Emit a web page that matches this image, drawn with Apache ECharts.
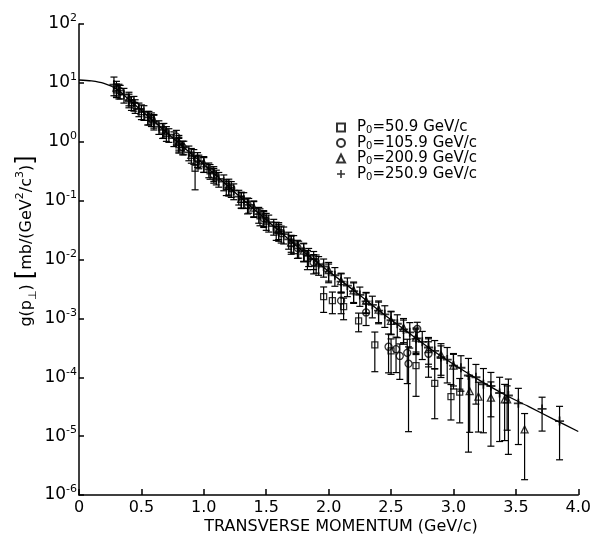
<!DOCTYPE html>
<html><head><meta charset="utf-8">
<script src="https://cdn.jsdelivr.net/npm/echarts@6/dist/echarts.min.js"></script>
<style>html,body{margin:0;padding:0;background:#fff}#c{width:594px;height:538px}</style>
</head><body><div id="c"></div>
<script>
// ---- data ----
const xTickValues = [0, 0.5, 1.0, 1.5, 2.0, 2.5, 3.0, 3.5, 4.0];
const legendMomenta = ['50.9', '105.9', '200.9', '250.9'];

// fitted curve
const fitX = [0,0.1,0.2,0.3,0.4,0.5,0.6,0.7,0.8,0.9,1.0,1.2,1.4,1.6,1.8,2.0,2.2,2.4,2.6,2.8,3.0,3.2,3.4,3.6,3.8,4.0];
const fitY = [11.2,10.8,9.8,7.9,5.2,3.4,2.2,1.45,0.95,0.62,0.41,0.17,0.072,0.031,0.0135,0.0063,0.0030,0.00138,0.00066,0.00032,0.000166,0.000091,0.000052,0.000032,0.0000195,0.000012];

// P0 = 250.9 GeV/c (+)
const plusX = [0.28,0.32,0.36,0.40,0.44,0.48,0.52,0.56,0.60,0.64,
  0.68,0.72,0.76,0.80,0.84,0.88,0.92,0.96,1.00,1.04,
  1.08,1.12,1.16,1.20,1.24,1.28,1.32,1.36,1.40,1.44,
  1.48,1.52,1.56,1.60,1.64,1.68,1.72,1.76,1.80,1.84,
  1.88,1.92,1.96,2.00,
  2.05,2.10,2.15,2.20,2.25,2.30,2.35,2.40,2.45,2.50,
  2.55,2.60,2.65,2.70,2.75,2.80,2.85,2.90,2.95,3.00,
  3.06,3.12,3.18,3.24,3.30,3.37,3.44,3.52,3.71,3.85];
const plusY = [9.3,7.4,6.3,5.1,4.6,3.6,3.2,2.6,2.2,1.8,
  1.6,1.32,1.15,0.93,0.81,0.66,0.575,0.47,0.42,0.34,
  0.295,0.235,0.21,0.166,0.148,0.117,0.105,0.085,0.074,0.059,
  0.052,0.043,0.037,0.030,0.027,0.022,0.019,0.0155,0.0138,0.0115,
  0.0102,0.0083,0.0076,0.0062,
  0.0054,0.0042,0.0036,0.0029,0.0025,0.00195,0.0017,0.00135,0.00117,0.00093,
  0.00081,0.00065,0.00058,0.00045,0.0004,0.00032,0.00028,0.00022,0.0002,0.000158,
  0.000145,0.000107,0.0001,0.000076,0.000071,0.000054,0.000049,0.000036,0.000029,0.000018];
const plusErr = [0.35,0.28,0.28,0.26,0.28,0.26,0.28,0.26,0.28,0.26,
  0.28,0.26,0.28,0.28,0.26,0.28,0.28,0.26,0.28,0.28,
  0.28,0.28,0.3,0.28,0.3,0.28,0.3,0.28,0.3,0.3,
  0.3,0.32,0.3,0.32,0.32,0.32,0.34,0.32,0.34,0.34,
  0.34,0.35,0.34,0.35,
  0.35,0.36,0.35,0.38,0.36,0.38,0.4,0.4,0.4,0.42,
  0.42,0.44,0.46,0.46,0.5,0.48,0.5,0.55,0.6,0.55,
  0.6,0.95,0.65,0.85,0.7,0.85,0.9,0.8,0.58,0.78];

// P0 = 200.9 GeV/c (triangle)
const triX = [0.30,0.40,0.50,0.60,0.70,0.80,0.90,1.00,1.10,1.20,
  1.30,1.40,1.50,1.60,1.70,1.80,1.90,2.00,2.10,2.20,
  2.30,2.40,2.50,2.60,2.70,2.80,2.90,3.00,
  3.13,3.20,3.30,3.41,3.43,3.57];
const triY = [8.3,5.5,3.3,2.3,1.41,1.0,0.60,0.43,0.257,0.178,
  0.107,0.076,0.046,0.032,0.0195,0.0141,0.0089,0.0066,0.0043,0.0030,
  0.0020,0.00141,0.00091,0.00069,0.00047,0.0003,0.00024,0.000158,
  0.000058,0.000047,0.000045,0.000042,0.000042,0.000013];
const triErr = [0.28,0.26,0.28,0.26,0.28,0.28,0.28,0.3,0.28,0.3,
  0.3,0.3,0.32,0.32,0.32,0.34,0.34,0.35,0.36,0.38,
  0.38,0.4,0.42,0.44,0.46,0.5,0.55,0.6,
  0.8,0.75,0.85,0.8,0.7,0.86];

// P0 = 105.9 GeV/c (circle)
const circX = [0.33,0.45,0.58,0.78,0.83,0.95,1.08,1.22,1.35,1.48,1.62,1.75,1.88,2.10,2.30,2.48,2.54,2.57,2.63,2.64,2.71,2.80];
const circY = [7.2,4.1,2.45,1.22,0.81,0.51,0.275,0.162,0.085,0.050,0.028,0.0158,0.0089,0.002,0.00126,0.00033,0.0003,0.00023,0.00026,0.00017,0.00066,0.00025];
const circErr = [0.26,0.26,0.26,0.28,0.26,0.28,0.28,0.3,0.3,0.3,0.32,0.34,0.36,0.4,0.4,0.64,0.6,0.6,0.7,0.93,0.3,0.6];

// P0 = 50.9 GeV/c (square)
const sqX = [0.30,0.42,0.55,0.67,0.80,0.93,1.05,1.18,1.30,1.45,1.58,1.70,1.83,1.96,2.03,2.12,2.24,2.37,2.50,2.70,2.85,2.98,3.05];
const sqY = [7.6,4.6,2.6,1.58,0.89,0.355,0.32,0.174,0.105,0.055,0.032,0.0186,0.0105,0.00234,0.002,0.00158,0.00091,0.000355,0.00028,0.000158,0.000079,0.000047,0.000056];
const sqErr = [0.26,0.26,0.26,0.28,0.28,0.57,0.28,0.3,0.3,0.32,0.34,0.34,0.36,0.46,0.4,0.4,0.35,0.65,0.6,0.7,0.75,0.6,0.7];

// ---- build ----
const FONT = 'DejaVu Sans';
const names = legendMomenta.map(m => 'P0=' + m + ' GeV/c');
function mk(xs, ys, es) { return xs.map((x, i) => [x, ys[i], ys[i] * (1 - es[i]), ys[i] * (1 + es[i])]); }
function errRender(params, api) {
  const x = api.value(0), lo = api.value(2), hi = api.value(3);
  const a = api.coord([x, hi]), b = api.coord([x, lo]);
  const w = 3.5, st = { stroke: '#000', lineWidth: 1.2 };
  return { type: 'group', children: [
    { type: 'line', shape: { x1: a[0], y1: a[1], x2: b[0], y2: b[1] }, style: st },
    { type: 'line', shape: { x1: a[0] - w, y1: a[1], x2: a[0] + w, y2: a[1] }, style: st },
    { type: 'line', shape: { x1: b[0] - w, y1: b[1], x2: b[0] + w, y2: b[1] }, style: st }
  ]};
}
const sets = [
  { name: names[0], data: mk(sqX, sqY, sqErr), symbol: 'rect', size: 6 },
  { name: names[1], data: mk(circX, circY, circErr), symbol: 'circle', size: 7 },
  { name: names[2], data: mk(triX, triY, triErr), symbol: 'triangle', size: 7 },
  { name: names[3], data: mk(plusX, plusY, plusErr), symbol: 'path://M-0.8,-4H0.8V-0.8H4V0.8H0.8V4H-0.8V0.8H-4V-0.8H-0.8Z', size: 9 }
];
const series = [];
sets.forEach((s, k) => {
  series.push({ type: 'custom', name: 'err' + k, data: s.data, encode: { x: 0, y: 1 }, renderItem: errRender, z: 2, silent: true });
});
sets.forEach((s, k) => {
  const filled = k === 3;
  series.push({ type: 'scatter', name: s.name, data: s.data.map(d => [d[0], d[1]]),
    symbol: s.symbol, symbolSize: s.size, z: 3,
    itemStyle: filled ? { color: '#000' } : { color: 'rgba(255,255,255,0)', borderColor: '#000', borderWidth: 1.3 } });
});
series.push({ type: 'line', name: 'fit', data: fitX.map((x, i) => [x, fitY[i]]), showSymbol: false, symbol: 'none',
  smooth: 0.3, lineStyle: { color: '#000', width: 1.3 }, z: 4, silent: true });

const chart = echarts.init(document.getElementById('c'));
chart.setOption({
  animation: false,
  backgroundColor: '#fff',
  grid: { left: 79, right: 14, top: 24, bottom: 43, containLabel: false },
  xAxis: {
    type: 'value', min: 0, max: 4, interval: 0.5,
    axisLine: { show: true, onZero: false, lineStyle: { color: '#000', width: 1.5 } },
    axisTick: { show: true, inside: true, length: 6, lineStyle: { color: '#000', width: 1.5 } },
    axisLabel: { color: '#000', fontFamily: FONT, fontSize: 16, margin: 5,
      formatter: v => (xTickValues.indexOf(v) >= 0 ? (v === 0 ? '0' : v.toFixed(1)) : '') },
    splitLine: { show: false }
  },
  yAxis: {
    type: 'log', logBase: 10, min: 1e-6, max: 100, splitNumber: 8,
    axisLine: { show: true, onZero: false, lineStyle: { color: '#000', width: 1.5 } },
    axisTick: { show: true, inside: true, length: 5, lineStyle: { color: '#000', width: 1.5 } },
    minorTick: { show: false },
    splitLine: { show: false },
    axisLabel: { margin: 2, color: '#000',
      formatter: v => '{b|10}{s|' + Math.round(Math.log10(v)) + '}',
      rich: {
        b: { fontFamily: FONT, fontSize: 17, lineHeight: 22, color: '#000' },
        s: { fontFamily: FONT, fontSize: 11, lineHeight: 11, verticalAlign: 'top', color: '#000' }
      } }
  },
  legend: {
    data: names, orient: 'vertical', left: 331, top: 115, itemWidth: 8, itemHeight: 8, itemGap: 0,
    selectedMode: false,
    formatter: name => '{p|P}{sub|0}{p|=' + legendMomenta[names.indexOf(name)] + ' GeV/c}',
    textStyle: { padding: [0, 0, 0, 7], rich: {
      p: { fontFamily: FONT, fontSize: 15, lineHeight: 16, color: '#000' },
      sub: { fontFamily: FONT, fontSize: 10, lineHeight: 10, verticalAlign: 'bottom', color: '#000' }
    } }
  },
  graphic: [
    { type: 'text', x: 341, y: 527, style: { text: 'TRANSVERSE MOMENTUM (GeV/c)', fontFamily: FONT, fontSize: 16,
      fill: '#000', align: 'center', verticalAlign: 'middle' } },
    { type: 'text', x: 27, y: 241, rotation: Math.PI / 2,
      style: { text: '{t|g(p}{sub|⊥}{t|) }{br|[}{t|mb/(GeV}{sup|2}{t|/c}{sup|3}{t|)}{br|]}',
        align: 'center', verticalAlign: 'middle', fill: '#000',
        rich: {
          t: { fontFamily: FONT, fontSize: 16, lineHeight: 24, fill: '#000' },
          br: { fontFamily: FONT, fontSize: 24, lineHeight: 24, fill: '#000' },
          sup: { fontFamily: FONT, fontSize: 11, lineHeight: 14, verticalAlign: 'top', fill: '#000' },
          sub: { fontFamily: FONT, fontSize: 11, lineHeight: 11, verticalAlign: 'bottom', fill: '#000' }
        } } }
  ],
  series: series
});
</script></body></html>
